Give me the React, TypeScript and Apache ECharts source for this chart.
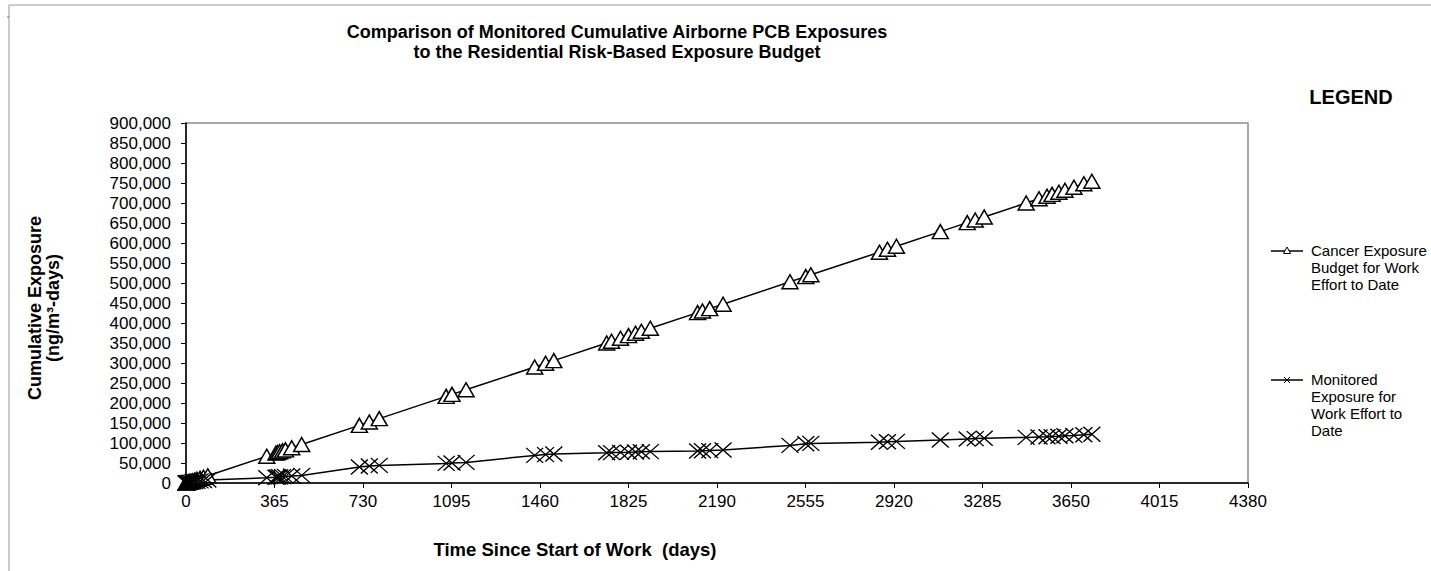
import React, { useEffect, useRef } from "react";
import * as echarts from "echarts";

const days = [
  0, 2, 5, 9, 14, 20, 28, 36, 45, 58, 72, 90,
  333, 371, 378, 386, 398, 410, 436, 477,
  715, 756, 797,
  1073, 1097, 1155,
  1438, 1483, 1517,
  1735, 1755, 1792, 1825, 1854, 1878, 1915,
  2110, 2130, 2160, 2215,
  2491, 2556, 2577,
  2860, 2893, 2930,
  3111,
  3222, 3255, 3292,
  3465, 3518, 3551, 3572, 3600, 3625, 3662, 3703, 3736,
];

const budget = [
  0, 400, 1000, 1800, 2800, 4000, 5700, 7300, 9100, 11700, 14500, 18200,
  67000, 75000, 76300, 78000, 80400, 82800, 88000, 96300,
  144000, 152500, 161000,
  216500, 221500, 233000,
  290000, 299500, 306000,
  350000, 354500, 362000, 368500, 374500, 379500, 387000,
  426000, 430000, 436000, 447000,
  503000, 516000, 520500,
  577000, 584500, 592000,
  628500,
  651000, 657500, 665000,
  700000, 710500, 717000, 721500, 727000, 732000, 739500, 748000, 754500,
];

const monitored = [
  0, 200, 500, 900, 1500, 2000, 2800, 3500, 4300, 5200, 6300, 7500,
  13000, 14500, 15000, 15500, 16000, 16500, 17500, 19000,
  40000, 42500, 44000,
  49000, 50000, 51500,
  69000, 71000, 72500,
  75500, 76000, 76500, 77000, 77500, 78000, 78500,
  80000, 80500, 81000, 82500,
  94000, 98000, 99000,
  102000, 103000, 104000,
  107500,
  110000, 111000, 112000,
  114000, 115000, 115500, 116000, 117000, 118000, 119000, 120500, 122000,
];

const xTicks = { min: 0, max: 4380, interval: 365 };
const yTicks = { min: 0, max: 900000, interval: 50000 };

const titleLines = [
  "Comparison of Monitored Cumulative Airborne PCB Exposures",
  "to the Residential Risk-Based Exposure Budget",
];
const xName = "Time Since Start of Work  (days)";
const yName = "Cumulative Exposure\n(ng/m³-days)";
const seriesNames = [
  "Cancer Exposure\nBudget for Work\nEffort to Date",
  "Monitored\nExposure for\nWork Effort to\nDate",
];

const FONT = "Arial, 'Liberation Sans', sans-serif";
const CROSS = "path://M0,0L10,10M10,0L0,10";

export default function App() {
  const ref = useRef<HTMLDivElement>(null);
  useEffect(() => {
    if (!ref.current) return;
    const chart = echarts.init(ref.current, undefined, { renderer: "svg" });
    const budgetData = days.map((d, i) => [d, budget[i]]);
    const monData = days.map((d, i) => [d, monitored[i]]);
    chart.setOption({
      animation: false,
      backgroundColor: "#fff",
      title: {
        text: titleLines.join("\n"),
        left: 612,
        top: 17,
        textAlign: "center",
        textStyle: { fontFamily: FONT, fontSize: 18, fontWeight: "bold", color: "#000", lineHeight: 20 },
      },
      grid: {
        left: 186,
        top: 123,
        right: 183,
        bottom: 88,
        show: true,
        borderColor: "#8c8c8c",
        borderWidth: 1.5,
        backgroundColor: "#fff",
      },
      xAxis: {
        type: "value",
        min: xTicks.min,
        max: xTicks.max,
        interval: xTicks.interval,
        axisLine: { show: true, lineStyle: { color: "#000", width: 1.5 } },
        axisTick: { show: true, inside: false, length: 5, lineStyle: { color: "#000" } },
        axisLabel: { fontFamily: FONT, fontSize: 17, color: "#000", margin: 10, formatter: (v: number) => String(v) },
        splitLine: { show: false },
      },
      yAxis: {
        type: "value",
        min: yTicks.min,
        max: yTicks.max,
        interval: yTicks.interval,
        axisLine: { show: true, lineStyle: { color: "#000", width: 1.5 } },
        axisTick: { show: true, inside: false, length: 5, lineStyle: { color: "#000" } },
        axisLabel: {
          fontFamily: FONT,
          fontSize: 17,
          color: "#000",
          margin: 15,
          formatter: (v: number) => v.toLocaleString("en-US"),
        },
        splitLine: { show: false },
      },
      graphic: [
        { type: "line", shape: { x1: 9, y1: 5, x2: 1431, y2: 5 }, style: { stroke: "#999", lineWidth: 1 } },
        { type: "line", shape: { x1: 9, y1: 5, x2: 9, y2: 571 }, style: { stroke: "#999", lineWidth: 1 } },
        { type: "rect", shape: { x: 7.5, y: 16.5, width: 1, height: 1 }, style: { fill: "#000" } },
        {
          type: "text",
          x: 44,
          y: 308,
          rotation: Math.PI / 2,
          style: {
            text: yName,
            fontFamily: FONT,
            fontSize: 18,
            fontWeight: "bold",
            fill: "#000",
            align: "center",
            verticalAlign: "middle",
            lineHeight: 18,
          },
        },
        {
          type: "text",
          x: 575,
          y: 549,
          style: {
            text: xName,
            fontFamily: FONT,
            fontSize: 18.5,
            fontWeight: "bold",
            fill: "#000",
            align: "center",
            verticalAlign: "middle",
          },
        },
        {
          type: "text",
          x: 1351,
          y: 97,
          style: {
            text: "LEGEND",
            fontFamily: FONT,
            fontSize: 20,
            fontWeight: "bold",
            fill: "#000",
            align: "center",
            verticalAlign: "middle",
          },
        },
        { type: "line", shape: { x1: 1271, y1: 251, x2: 1303, y2: 251 }, style: { stroke: "#000", lineWidth: 1.5 } },
        {
          type: "polygon",
          shape: { points: [[1287, 247], [1283.5, 253.5], [1290.5, 253.5]] },
          style: { fill: "#fff", stroke: "#000", lineWidth: 1 },
        },
        {
          type: "text",
          x: 1311,
          y: 242,
          style: { text: seriesNames[0], fontFamily: FONT, fontSize: 15, fill: "#000", lineHeight: 17, verticalAlign: "top" },
        },
        { type: "line", shape: { x1: 1271, y1: 380, x2: 1303, y2: 380 }, style: { stroke: "#000", lineWidth: 1.5 } },
        { type: "line", shape: { x1: 1284, y1: 377, x2: 1290, y2: 383 }, style: { stroke: "#000", lineWidth: 1 } },
        { type: "line", shape: { x1: 1290, y1: 377, x2: 1284, y2: 383 }, style: { stroke: "#000", lineWidth: 1 } },
        {
          type: "text",
          x: 1311,
          y: 371,
          style: { text: seriesNames[1], fontFamily: FONT, fontSize: 15, fill: "#000", lineHeight: 17, verticalAlign: "top" },
        },
      ],
      series: [
        {
          name: seriesNames[0],
          type: "line",
          data: budgetData,
          symbol: "triangle",
          symbolSize: [16, 14],
          lineStyle: { color: "#000", width: 1.5 },
          itemStyle: { color: "#fff", borderColor: "#000", borderWidth: 1.5 },
        },
        {
          name: seriesNames[1],
          type: "line",
          data: monData,
          symbol: CROSS,
          symbolSize: [17, 15],
          lineStyle: { color: "#000", width: 1.5 },
          itemStyle: { color: "none", borderColor: "#000", borderWidth: 1.3 },
        },
      ],
    });
    return () => chart.dispose();
  }, []);
  return (
    <div
      ref={ref}
      style={{ position: "absolute", left: 0, top: 0, width: 1431, height: 571 }}
    />
  );
}
